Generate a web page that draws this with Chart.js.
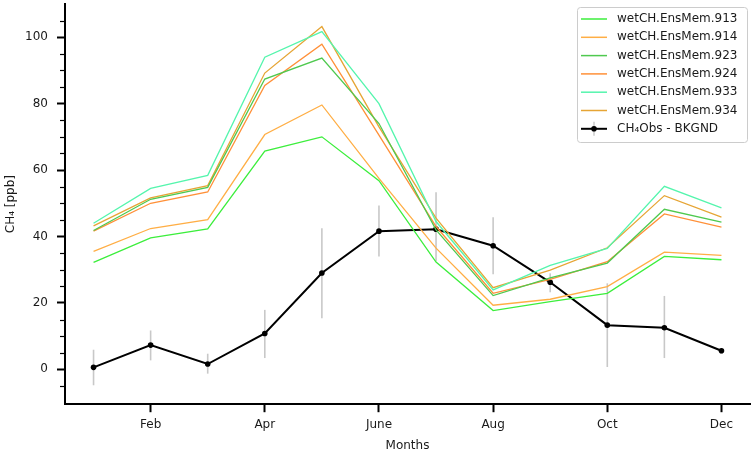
<!DOCTYPE html>
<html>
<head>
<meta charset="utf-8">
<script src="https://cdn.jsdelivr.net/npm/chart.js@4"></script>
<style>
  html, body { margin: 0; padding: 0; background: #fff; }
  #wrap { width: 754px; height: 454px; }
</style>
</head>
<body>
<div id="wrap"><canvas id="ch4Chart"></canvas></div>
<script>
// months and values
const months = ['Jan', 'Feb', 'Mar', 'Apr', 'May', 'June', 'July', 'Aug', 'Sep', 'Oct', 'Nov', 'Dec'];
const yTicks = [0, 20, 40, 60, 80, 100];
const yMinorTicks = [-5, 5, 10, 15, 25, 30, 35, 45, 50, 55, 65, 70, 75, 85, 90, 95, 105];

const mem913 = [32.2, 39.6, 42.3, 65.7, 70.0, 56.8, 32.3, 17.7, 20.4, 22.9, 34.0, 33.0];
const mem914 = [35.5, 42.4, 45.1, 70.7, 79.6, 57.5, 36.5, 19.3, 21.1, 24.9, 35.3, 34.3];
const mem923 = [41.8, 51.2, 54.8, 87.4, 93.7, 74.0, 42.0, 22.2, 27.5, 32.0, 48.2, 44.3];
const mem924 = [41.6, 50.0, 53.4, 85.5, 97.9, 70.5, 43.0, 22.9, 27.1, 32.4, 46.8, 42.8];
const mem933 = [44.0, 54.5, 58.4, 94.0, 101.7, 80.0, 44.5, 23.9, 31.3, 36.4, 55.1, 48.6];
const mem934 = [43.2, 51.6, 55.3, 89.2, 103.2, 73.0, 45.5, 24.6, 29.9, 36.6, 52.3, 45.8];

const obs = [0.6, 7.3, 1.6, 10.8, 29.0, 41.6, 42.2, 37.2, 26.2, 13.3, 12.5, 5.6];
const obsLow = [-4.8, 2.7, -1.3, 3.4, 15.4, 34.0, 32.6, 28.6, 23.2, 0.7, 3.4, 4.7];
const obsHigh = [5.9, 11.7, 4.7, 17.9, 42.5, 49.3, 53.3, 45.8, 28.9, 25.9, 22.1, 6.4];

const FONT = "'DejaVu Sans', sans-serif";

function member(label, data, color) {
    return {
        label: label,
        data: data,
        borderColor: color,
        backgroundColor: color,
        borderWidth: 1.3,
        pointRadius: 0,
        fill: false
    };
}

// grey vertical error bars behind the obs line
const errorBars = {
    id: 'errorBars',
    beforeDatasetsDraw(chart) {
        const ctx = chart.ctx;
        const x = chart.scales.x, y = chart.scales.y;
        ctx.save();
        ctx.strokeStyle = '#c8c8c8';
        ctx.lineWidth = 1.6;
        obsLow.forEach((lo, i) => {
            const px = x.getPixelForValue(i);
            ctx.beginPath();
            ctx.moveTo(px, y.getPixelForValue(lo));
            ctx.lineTo(px, y.getPixelForValue(obsHigh[i]));
            ctx.stroke();
        });
        ctx.restore();
    }
};

// minor ticks on the y axis
const minorTicks = {
    id: 'minorTicks',
    afterDraw(chart) {
        const ctx = chart.ctx;
        const y = chart.scales.y;
        const left = chart.chartArea.left;
        ctx.save();
        ctx.strokeStyle = '#000';
        ctx.lineWidth = 1.2;
        yMinorTicks.forEach(v => {
            const py = Math.round(y.getPixelForValue(v)) + 0.5;
            ctx.beginPath();
            ctx.moveTo(left - 5, py);
            ctx.lineTo(left, py);
            ctx.stroke();
        });
        ctx.restore();
    }
};

// legend box inside the plot, top right
const boxLegend = {
    id: 'boxLegend',
    afterDraw(chart) {
        const ctx = chart.ctx;
        const bx = 577, by = 7, bw = 170, bh = 135;
        ctx.save();
        ctx.fillStyle = 'rgba(255,255,255,0.85)';
        ctx.strokeStyle = '#cccccc';
        ctx.lineWidth = 1;
        ctx.beginPath();
        ctx.roundRect(bx + 0.5, by + 0.5, bw, bh, 3);
        ctx.fill();
        ctx.stroke();
        ctx.font = '12px ' + FONT;
        ctx.textBaseline = 'middle';
        ctx.fillStyle = '#1a1a1a';
        chart.data.datasets.forEach((ds, i) => {
            const cy = 19 + i * 18.3;
            if (ds.label.indexOf('Obs') >= 0) {
                ctx.strokeStyle = '#c8c8c8';
                ctx.lineWidth = 1.4;
                ctx.beginPath();
                ctx.moveTo(594, cy - 7);
                ctx.lineTo(594, cy + 7);
                ctx.stroke();
                ctx.strokeStyle = '#000';
                ctx.lineWidth = 2;
                ctx.beginPath();
                ctx.moveTo(581, cy);
                ctx.lineTo(607, cy);
                ctx.stroke();
                ctx.fillStyle = '#000';
                ctx.beginPath();
                ctx.arc(594, cy, 2.8, 0, Math.PI * 2);
                ctx.fill();
            } else {
                ctx.strokeStyle = ds.borderColor;
                ctx.lineWidth = 1.5;
                ctx.beginPath();
                ctx.moveTo(581, cy);
                ctx.lineTo(607, cy);
                ctx.stroke();
            }
            ctx.fillStyle = '#1a1a1a';
            ctx.fillText(ds.label, 617, cy);
        });
        ctx.restore();
    }
};

const ctx = document.getElementById('ch4Chart').getContext('2d');
const ch4Chart = new Chart(ctx, {
    type: 'line',
    data: {
        labels: months,
        datasets: [
            member('wetCH.EnsMem.913', mem913, '#3cee3c'),
            member('wetCH.EnsMem.914', mem914, '#ffae45'),
            member('wetCH.EnsMem.923', mem923, '#4fc94f'),
            member('wetCH.EnsMem.924', mem924, '#ff9038'),
            member('wetCH.EnsMem.933', mem933, '#55f5ad'),
            member('wetCH.EnsMem.934', mem934, '#e6a535'),
            {
                label: 'CH\u2084Obs - BKGND',
                data: obs,
                borderColor: '#000',
                backgroundColor: '#000',
                borderWidth: 2,
                pointRadius: 2.8,
                pointBorderWidth: 0,
                fill: false
            }
        ]
    },
    options: {
        responsive: true,
        maintainAspectRatio: false,
        animation: false,
        layout: {
            padding: { top: 0, right: 4, left: 0, bottom: 0 }
        },
        plugins: {
            legend: { display: false },
            tooltip: { enabled: false }
        },
        scales: {
            x: {
                offset: true,
                border: { color: '#000', width: 2 },
                grid: {
                    drawOnChartArea: false,
                    tickLength: 8,
                    tickWidth: 2,
                    tickColor: '#000'
                },
                ticks: {
                    autoSkip: false,
                    maxRotation: 0,
                    padding: 5,
                    color: '#1a1a1a',
                    font: { family: FONT, size: 12 },
                    callback: function(value, index) {
                        return index % 2 === 1 ? months[index] : null;
                    }
                },
                title: {
                    display: true,
                    text: 'Months',
                    color: '#1a1a1a',
                    font: { family: FONT, size: 12 },
                    padding: { top: 2, bottom: 1 }
                }
            },
            y: {
                min: -10.5,
                max: 110,
                afterBuildTicks: function(scale) {
                    scale.ticks = yTicks.map(v => ({ value: v }));
                },
                afterFit: function(scale) {
                    scale.width = 65;
                    scale.paddingTop = 0;
                    scale.paddingBottom = 0;
                },
                border: { color: '#000', width: 2 },
                grid: {
                    drawOnChartArea: false,
                    tickLength: 8,
                    tickWidth: 2,
                    tickColor: '#000'
                },
                ticks: {
                    padding: 9,
                    color: '#1a1a1a',
                    font: { family: FONT, size: 12 }
                },
                title: {
                    display: true,
                    text: 'CH\u2084 [ppb]',
                    color: '#1a1a1a',
                    font: { family: FONT, size: 12 },
                    padding: { top: 4, bottom: 4 }
                }
            }
        }
    },
    plugins: [errorBars, minorTicks, boxLegend]
});
</script>
</body>
</html>
